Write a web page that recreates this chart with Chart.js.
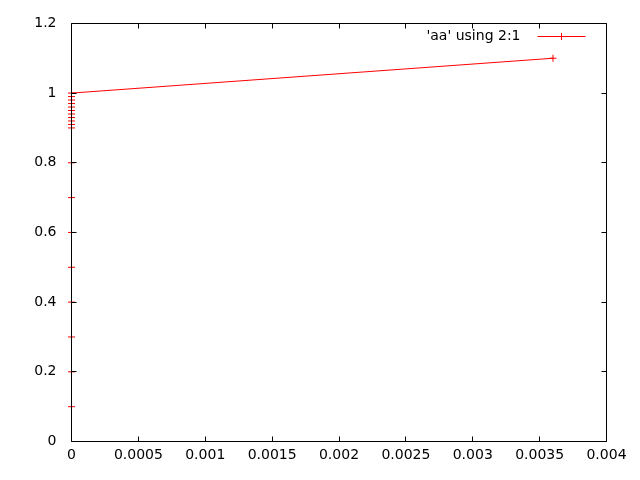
<!DOCTYPE html>
<html>
<head>
<meta charset="utf-8">
<script src="https://cdn.jsdelivr.net/npm/chart.js@4.4.0/dist/chart.umd.min.js"></script>
<style>
  html, body { margin: 0; padding: 0; background: #fff; }
  #wrap { width: 640px; height: 480px; }
</style>
</head>
<body>
<div id="wrap"><canvas id="chart" width="640" height="480"></canvas></div>
<script>
// data: x is column 2, y is column 1
const xValues = [0, 0, 0, 0, 0, 0, 0, 0, 0, 0, 0, 0, 0, 0, 0, 0, 0, 0, 0, 0.0036];
const yValues = [0.1, 0.2, 0.3, 0.4, 0.5, 0.6, 0.7, 0.8, 0.9, 0.91, 0.92, 0.93, 0.94, 0.95, 0.96, 0.97, 0.98, 0.99, 1.0, 1.1];
const xTicks = [0, 0.0005, 0.001, 0.0015, 0.002, 0.0025, 0.003, 0.0035, 0.004];
const yTicks = [0, 0.2, 0.4, 0.6, 0.8, 1, 1.2];
const seriesLabel = "'aa' using 2:1";

const FONT = { family: 'DejaVu Sans', size: 14 };

// gnuplot style frame: border + inward ticks on all sides, drawn over the data
const framePlugin = {
    id: 'frame',
    afterDatasetsDraw(chart) {
        const ctx = chart.ctx;
        const a = chart.chartArea;
        const xs = chart.scales.x, ys = chart.scales.y;
        const len = 5;
        const L = Math.floor(a.left) + 0.5, R = Math.floor(a.right) + 0.5;
        const T = Math.floor(a.top) + 0.5, B = Math.floor(a.bottom) + 0.5;
        ctx.save();
        ctx.strokeStyle = '#000';
        ctx.lineWidth = 1;
        ctx.beginPath();
        ctx.rect(L, T, R - L, B - T);
        xTicks.forEach(v => {
            const px = Math.floor(xs.getPixelForValue(v)) + 0.5;
            ctx.moveTo(px, B); ctx.lineTo(px, B - len);
            ctx.moveTo(px, T); ctx.lineTo(px, T + len);
        });
        yTicks.forEach(v => {
            const py = Math.floor(ys.getPixelForValue(v)) + 0.5;
            ctx.moveTo(L, py); ctx.lineTo(L + len, py);
            ctx.moveTo(R, py); ctx.lineTo(R - len, py);
        });
        ctx.stroke();

        // key, top right
        const ky = T + 13;
        const kx = Math.floor(a.right) - 45 + 0.5;
        ctx.fillStyle = '#000';
        ctx.font = FONT.size + 'px ' + FONT.family;
        ctx.textAlign = 'right';
        ctx.textBaseline = 'middle';
        ctx.fillText(seriesLabel, kx - 41, ky);
        ctx.strokeStyle = '#ff0000';
        ctx.beginPath();
        ctx.moveTo(kx - 24, ky); ctx.lineTo(kx + 24, ky);
        ctx.moveTo(kx, ky - 3.5); ctx.lineTo(kx, ky + 3.5);
        ctx.stroke();
        ctx.restore();
    }
};

new Chart(document.getElementById('chart'), {
    type: 'scatter',
    data: {
        datasets: [{
            label: seriesLabel,
            data: xValues.map((x, i) => ({ x: x, y: yValues[i] })),
            showLine: true,
            clip: false,
            borderColor: '#ff0000',
            borderWidth: 1,
            pointStyle: 'cross',
            pointRadius: 3.5,
            pointBorderColor: '#ff0000',
            pointBorderWidth: 1,
            pointHoverRadius: 3.5
        }]
    },
    options: {
        responsive: false,
        animation: false,
        events: [],
        layout: { padding: { left: 0, top: 22.5, right: 33.5, bottom: 0 } },
        plugins: {
            legend: { display: false },
            tooltip: { enabled: false }
        },
        scales: {
            x: {
                type: 'linear',
                min: 0, max: 0.004,
                afterBuildTicks: s => { s.ticks = xTicks.map(v => ({ value: v })); },
                afterFit: s => { s.height = 38.5; },
                grid: { display: false, drawTicks: false },
                border: { display: false },
                ticks: {
                    color: '#000', font: FONT, padding: 5, maxRotation: 0,
                    callback: v => String(Number(v.toFixed(4)))
                }
            },
            y: {
                type: 'linear',
                min: 0, max: 1.2,
                afterBuildTicks: s => { s.ticks = yTicks.map(v => ({ value: v })); },
                afterFit: s => { s.width = 71.5; },
                grid: { display: false, drawTicks: false },
                border: { display: false },
                ticks: {
                    color: '#000', font: FONT, padding: 15,
                    callback: v => String(Number(v.toFixed(2)))
                }
            }
        }
    },
    plugins: [framePlugin]
});
</script>
</body>
</html>
